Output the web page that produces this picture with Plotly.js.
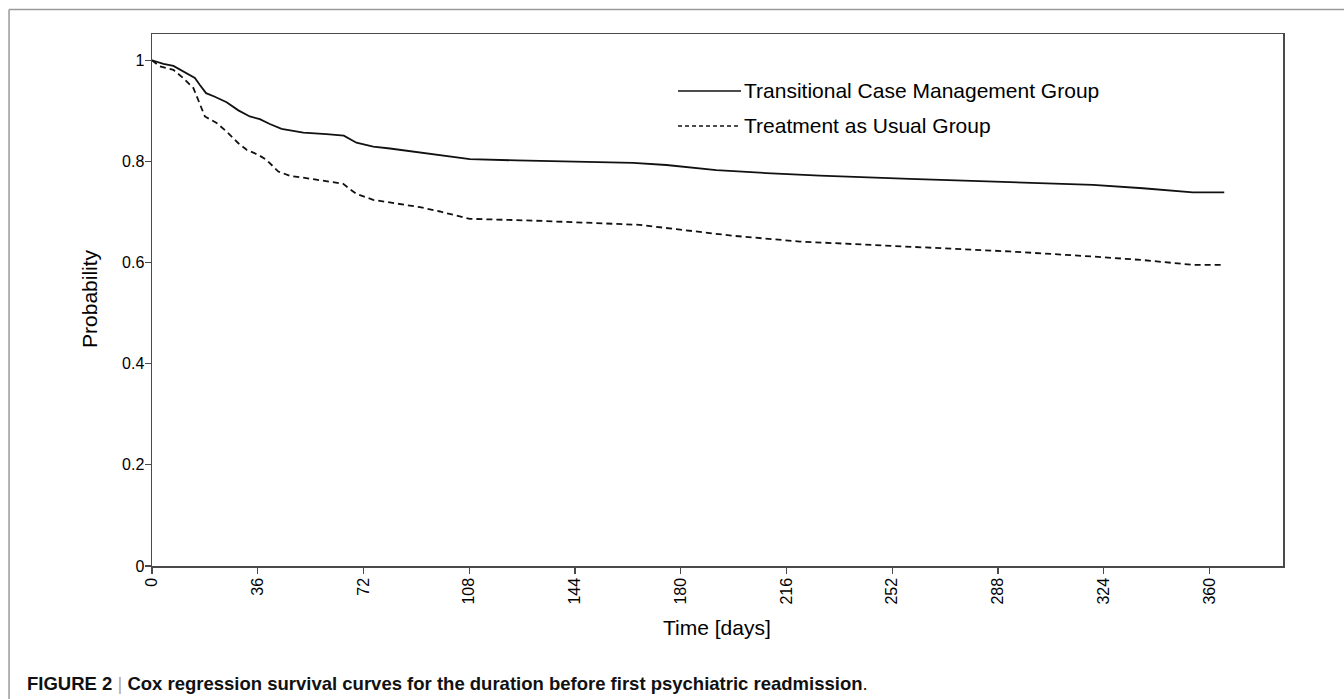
<!DOCTYPE html>
<html>
<head>
<meta charset="utf-8">
<script src="https://cdn.plot.ly/plotly-3.0.1.min.js"></script>
<style>
html,body{margin:0;padding:0;background:#fff;}
#chart{width:1344px;height:699px;}
</style>
</head>
<body>
<div id="chart"></div>
<script>
// Series names
const seriesNames = ["Transitional Case Management Group", "Treatment as Usual Group"];

// Transitional Case Management Group (solid)
const tcmDays = [0, 3.9, 7.3, 10.6, 14.6, 16.3, 18.4, 21.4, 25.4, 29.4, 33.3, 36.7, 40.1, 44.1, 51.5, 59.4, 65.3, 69.6, 75.3, 81, 91.2, 100, 108.2, 124.1, 153.6, 163.8, 175.1, 192.1, 209.1, 219.3, 227.3, 257.9, 291.9, 320.3, 337.3, 354.3, 365];
const tcmProb = [1.0, 0.993, 0.989, 0.978, 0.965, 0.951, 0.935, 0.928, 0.917, 0.901, 0.889, 0.8835, 0.874, 0.8645, 0.857, 0.854, 0.851, 0.837, 0.8295, 0.8256, 0.818, 0.811, 0.8045, 0.802, 0.798, 0.797, 0.793, 0.783, 0.777, 0.7735, 0.772, 0.7656, 0.759, 0.7537, 0.747, 0.739, 0.739];

// Treatment as Usual Group (dashed)
const tauDays = [0, 2.7, 7.3, 10.6, 14.1, 16.3, 18, 22, 25.4, 29.4, 32.2, 36.2, 39, 43, 47, 54.9, 60.6, 65.1, 67.4, 69.6, 75.3, 84.4, 91.2, 98, 108.2, 129.7, 154.7, 166, 178.5, 197.8, 220.5, 227.3, 257.9, 291.9, 320.3, 337.3, 354.3, 365];
const tauProb = [1.0, 0.988, 0.981, 0.965, 0.945, 0.915, 0.889, 0.876, 0.859, 0.836, 0.823, 0.813, 0.803, 0.780, 0.7715, 0.765, 0.760, 0.7557, 0.745, 0.736, 0.724, 0.716, 0.7096, 0.701, 0.6865, 0.683, 0.678, 0.6746, 0.666, 0.653, 0.6416, 0.6396, 0.632, 0.622, 0.612, 0.605, 0.5955, 0.5955];

// Tick labels
const xTicks = [0, 36, 72, 108, 144, 180, 216, 252, 288, 324, 360];
const yTicks = [0, 0.2, 0.4, 0.6, 0.8, 1];
const yTickText = ["0", "0.2", "0.4", "0.6", "0.8", "1"];

const xTitle = "Time [days]";
const yTitle = "Probability";
const caption = "<b>FIGURE 2 <span style='color:#aaa;font-weight:normal'>|</span> Cox regression survival curves for the duration before first psychiatric readmission</b>.";

const FONT = "Liberation Sans, Arial, sans-serif";
const AX = "#4a4a4a";

const traces = [
  {x: tcmDays, y: tcmProb, name: seriesNames[0], type: "scatter", mode: "lines",
   line: {color: "#111", width: 1.8, shape: "linear"}, hoverinfo: "x+y"},
  {x: tauDays, y: tauProb, name: seriesNames[1], type: "scatter", mode: "lines",
   line: {color: "#111", width: 1.8, dash: "6px,4px"}, hoverinfo: "x+y"}
];

const layout = {
  width: 1344, height: 699,
  margin: {l: 152, r: 61, t: 34, b: 133},
  paper_bgcolor: "#fff", plot_bgcolor: "#fff",
  showlegend: false,
  font: {family: FONT, color: "#000", size: 15},
  xaxis: {
    range: [0, 385], tickvals: xTicks, ticktext: xTicks.map(String),
    tickangle: -90, ticks: "outside", ticklen: 6, tickwidth: 1.2, tickcolor: AX,
    ticklabelstandoff: -2,
    showline: true, linecolor: AX, linewidth: 1.5, mirror: true,
    showgrid: false, zeroline: false, tickfont: {size: 16, family: FONT, color: "#000"}
  },
  yaxis: {
    range: [0, 1.052], tickvals: yTicks, ticktext: yTickText,
    ticks: "outside", ticklen: 6, tickwidth: 1.2, tickcolor: AX,
    ticklabelstandoff: -3,
    showline: true, linecolor: AX, linewidth: 1.5, mirror: true,
    showgrid: false, zeroline: false, tickfont: {size: 16, family: FONT, color: "#000"}
  },
  shapes: [
    // outer figure frame (left and top)
    {type: "line", xref: "paper", yref: "paper", x0: -0.1264, x1: -0.1264, y0: 1.0460, y1: -0.30, line: {color: "#9a9a9a", width: 1.5}},
    {type: "line", xref: "paper", yref: "paper", x0: -0.1264, x1: 1.06, y0: 1.0460, y1: 1.0460, line: {color: "#9a9a9a", width: 1.5}},
    // legend samples
    {type: "line", xref: "paper", yref: "paper", x0: 0.4651, x1: 0.5208, y0: 0.8929, y1: 0.8929, line: {color: "#111", width: 1.6}},
    {type: "line", xref: "paper", yref: "paper", x0: 0.4651, x1: 0.5181, y0: 0.8271, y1: 0.8271, line: {color: "#111", width: 1.6, dash: "4px,3px"}}
  ],
  annotations: [
    {text: seriesNames[0], xref: "paper", yref: "paper", x: 0.5216, y: 0.8929, xanchor: "left", yanchor: "middle", showarrow: false, font: {size: 21, family: FONT, color: "#000"}},
    {text: seriesNames[1], xref: "paper", yref: "paper", x: 0.5216, y: 0.8271, xanchor: "left", yanchor: "middle", showarrow: false, font: {size: 21, family: FONT, color: "#000"}},
    {text: xTitle, xref: "paper", yref: "paper", x: 0.4996, y: -0.1165, xanchor: "center", yanchor: "middle", showarrow: false, font: {size: 21, family: FONT, color: "#000"}},
    {text: yTitle, xref: "paper", yref: "paper", x: -0.0548, y: 0.502, xanchor: "center", yanchor: "middle", textangle: -90, showarrow: false, font: {size: 21, family: FONT, color: "#000"}},
    {text: caption, xref: "paper", yref: "paper", x: -0.1123, y: -0.2218, xanchor: "left", yanchor: "middle", showarrow: false, font: {size: 18.5, family: FONT, color: "#111"}}
  ]
};

Plotly.newPlot("chart", traces, layout, {displayModeBar: false, responsive: false, staticPlot: true});
</script>
</body>
</html>
